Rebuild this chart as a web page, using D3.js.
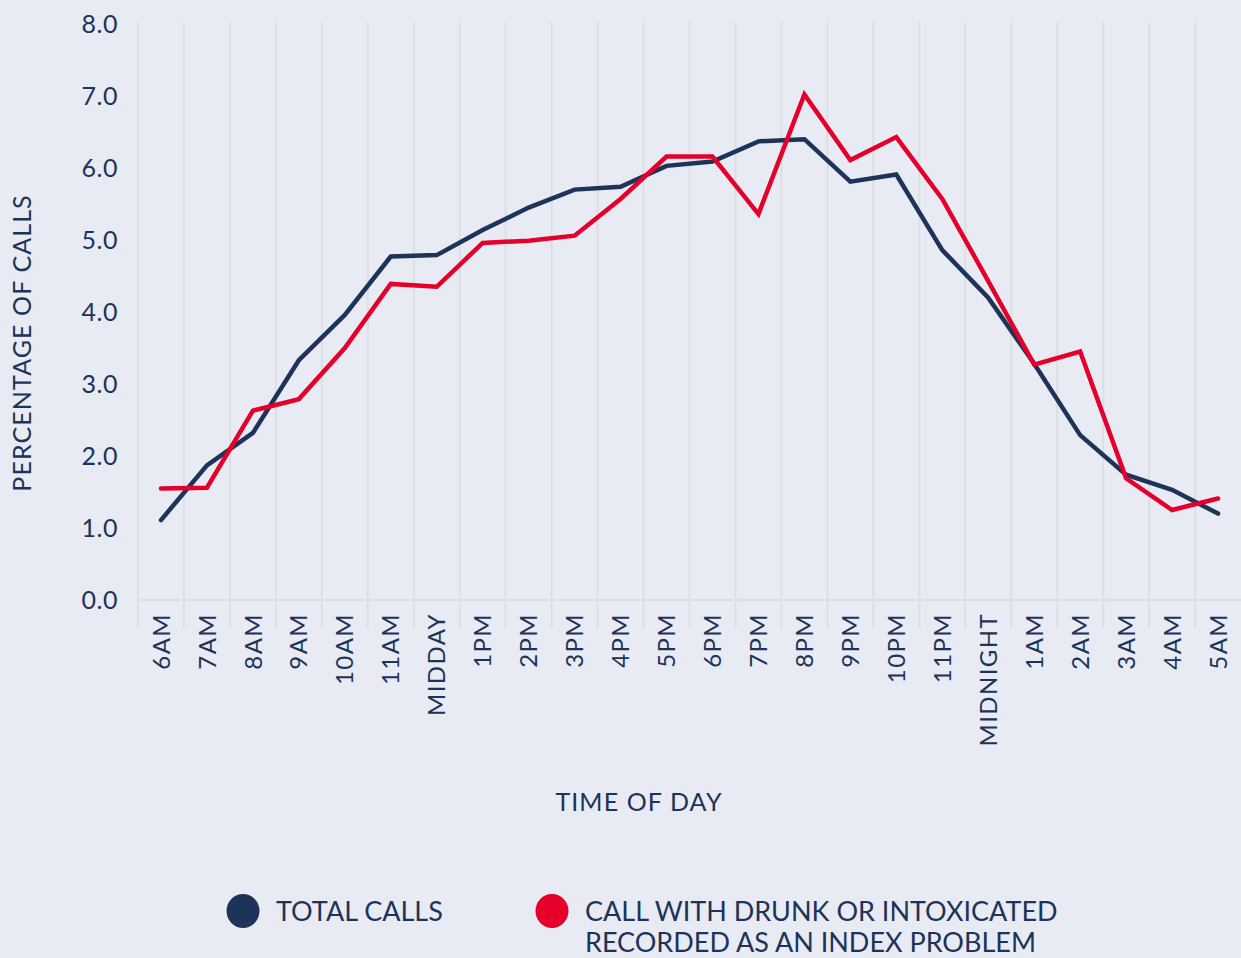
<!DOCTYPE html>
<html>
<head>
<meta charset="utf-8">
<script src="https://cdn.jsdelivr.net/npm/d3@7"></script>
<style>
  html, body { margin: 0; padding: 0; background: #e8ebf3; }
  svg { display: block; }
  text { font-family: Lato, "Noto Sans", sans-serif; fill: #1d3358; }
</style>
</head>
<body>
<svg id="chart" width="1241" height="958"></svg>
<script>
// Hour-of-day categories
const hours = ["6AM","7AM","8AM","9AM","10AM","11AM","MIDDAY","1PM","2PM","3PM","4PM","5PM",
               "6PM","7PM","8PM","9PM","10PM","11PM","MIDNIGHT","1AM","2AM","3AM","4AM","5AM"];

// Percentage of all calls per hour
const totalCalls = [1.11, 1.87, 2.32, 3.33, 3.96, 4.77, 4.79, 5.14, 5.45, 5.70, 5.74, 6.03,
                    6.09, 6.37, 6.40, 5.81, 5.91, 4.86, 4.20, 3.28, 2.29, 1.74, 1.53, 1.20];

// Percentage of calls with drunk/intoxicated recorded as an index problem
const drunkCalls = [1.55, 1.56, 2.63, 2.79, 3.50, 4.39, 4.35, 4.96, 4.99, 5.06, 5.57, 6.16,
                    6.16, 5.36, 7.02, 6.11, 6.43, 5.57, 4.43, 3.27, 3.45, 1.69, 1.25, 1.41];

const yTicks = [0, 1, 2, 3, 4, 5, 6, 7, 8];

const legendItems = [
  { lines: ["TOTAL CALLS"], color: "#1d3358" },
  { lines: ["CALL WITH DRUNK OR INTOXICATED", "RECORDED AS AN INDEX PROBLEM"], color: "#e4002b" }
];

(function () {
  const svg = d3.select("#chart");
  const plotLeft = 138, plotRight = 1241, plotTop = 24, plotBottom = 600;

  const x = d3.scaleBand().domain(hours).range([plotLeft, plotRight]).paddingInner(0).paddingOuter(0);
  const y = d3.scaleLinear().domain([0, 8]).range([plotBottom, plotTop]);

  // Vertical grid lines at category boundaries, extending below the baseline
  const grid = svg.append("g").attr("stroke", "#dddfe3").attr("stroke-width", 2);
  hours.forEach(h => {
    grid.append("line")
      .attr("x1", x(h)).attr("x2", x(h))
      .attr("y1", y(8) - 1).attr("y2", plotBottom + 28);
  });
  grid.append("line")
    .attr("x1", plotLeft).attr("x2", plotRight)
    .attr("y1", y(0)).attr("y2", y(0));

  // Y axis tick labels
  const yAxis = d3.axisLeft(y).tickValues(yTicks).tickFormat(d3.format(".1f")).tickSize(0).tickPadding(0);
  const yg = svg.append("g").attr("transform", "translate(118,0)").call(yAxis);
  yg.select(".domain").remove();
  yg.selectAll("text").attr("font-size", 25).attr("fill", "#1d3358")
    .style("font-family", "Lato, 'Noto Sans', sans-serif")
    .style("letter-spacing", "0.5px");

  // X axis labels, rotated
  const xAxis = d3.axisBottom(x).tickSize(0).tickPadding(0);
  const xg = svg.append("g").attr("transform", `translate(0,${plotBottom})`).call(xAxis);
  xg.select(".domain").remove();
  xg.selectAll("text")
    .attr("font-size", 24).attr("fill", "#1d3358")
    .style("font-family", "Lato, 'Noto Sans', sans-serif")
    .style("letter-spacing", "1.4px")
    .attr("text-anchor", "end")
    .attr("transform", "rotate(-90)")
    .attr("x", -13).attr("y", 0).attr("dy", "0.36em");

  // Axis titles
  svg.append("text")
    .attr("transform", "translate(31,343) rotate(-90)")
    .attr("text-anchor", "middle")
    .attr("font-size", 25)
    .style("letter-spacing", "1.1px")
    .text("PERCENTAGE OF CALLS");

  svg.append("text")
    .attr("x", 639).attr("y", 811)
    .attr("text-anchor", "middle")
    .attr("font-size", 25)
    .style("letter-spacing", "1.1px")
    .text("TIME OF DAY");

  // Series lines
  const line = d3.line()
    .x((d, i) => x(hours[i]) + x.bandwidth() / 2)
    .y(d => y(d));

  svg.append("path").datum(totalCalls)
    .attr("fill", "none").attr("stroke", "#1d3358").attr("stroke-width", 4.5)
    .attr("stroke-linejoin", "miter").attr("stroke-linecap", "round")
    .attr("d", line);

  svg.append("path").datum(drunkCalls)
    .attr("fill", "none").attr("stroke", "#e4002b").attr("stroke-width", 4.5)
    .attr("stroke-linejoin", "miter").attr("stroke-linecap", "round")
    .attr("d", line);

  // Legend
  const legendX = [243, 552];
  legendItems.forEach((item, i) => {
    const g = svg.append("g").attr("transform", `translate(${legendX[i]},911)`);
    g.append("ellipse").attr("rx", 16.5).attr("ry", 17).attr("fill", item.color);
    item.lines.forEach((t, j) => {
      g.append("text")
        .attr("x", 33).attr("y", 10 + j * 31)
        .attr("font-size", 27)
        .text(t);
    });
  });
})();
</script>
</body>
</html>
